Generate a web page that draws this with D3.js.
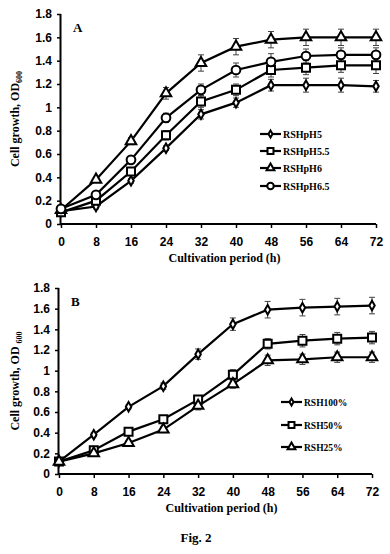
<!DOCTYPE html>
<html>
<head>
<meta charset="utf-8">
<script src="https://cdn.jsdelivr.net/npm/d3@7"></script>
<style>
body { margin: 0; background: #fff; }
svg { display: block; font-family: "Liberation Serif", "DejaVu Serif", serif; font-weight: bold; }
</style>
</head>
<body>
<script>
const hours = [0, 8, 16, 24, 32, 40, 48, 56, 64, 72];
const yTicks = [0, 0.2, 0.4, 0.6, 0.8, 1, 1.2, 1.4, 1.6, 1.8];

// panel A: pH series
const namesA = ["RSHpH5", "RSHpH5.5", "RSHpH6", "RSHpH6.5"];
const shapesA = ["diamond", "square", "triangle", "circle"];
const pH5 = [0.11, 0.15, 0.37, 0.65, 0.94, 1.04, 1.19, 1.19, 1.19, 1.18];
const pH55 = [0.10, 0.20, 0.45, 0.76, 1.05, 1.15, 1.32, 1.34, 1.36, 1.36];
const pH6 = [0.12, 0.38, 0.71, 1.12, 1.38, 1.52, 1.58, 1.60, 1.60, 1.60];
const pH65 = [0.13, 0.25, 0.55, 0.91, 1.15, 1.32, 1.39, 1.44, 1.45, 1.45];
const errA = [
  [0.02, 0.02, 0.02, 0.02, 0.04, 0.04, 0.05, 0.06, 0.06, 0.05],
  [0.02, 0.02, 0.03, 0.04, 0.05, 0.05, 0.06, 0.06, 0.06, 0.07],
  [0.02, 0.02, 0.03, 0.05, 0.07, 0.07, 0.07, 0.07, 0.07, 0.07],
  [0.02, 0.02, 0.03, 0.04, 0.05, 0.06, 0.07, 0.06, 0.06, 0.06]
];

// panel B: RSH concentration series
const namesB = ["RSH100%", "RSH50%", "RSH25%"];
const shapesB = ["diamond", "square", "triangle"];
const rsh100 = [0.12, 0.38, 0.65, 0.85, 1.16, 1.45, 1.59, 1.61, 1.62, 1.63];
const rsh50 = [0.12, 0.23, 0.41, 0.53, 0.72, 0.96, 1.26, 1.29, 1.31, 1.32];
const rsh25 = [0.12, 0.20, 0.30, 0.43, 0.66, 0.87, 1.10, 1.11, 1.13, 1.13];
const errB = [
  [0.02, 0.02, 0.02, 0.03, 0.05, 0.06, 0.08, 0.08, 0.08, 0.08],
  [0.02, 0.02, 0.03, 0.03, 0.04, 0.05, 0.05, 0.06, 0.06, 0.06],
  [0.02, 0.02, 0.02, 0.03, 0.04, 0.04, 0.05, 0.05, 0.05, 0.05]
];

const svg = d3.select("body").append("svg")
  .attr("width", 390)
  .attr("height", 554);

const symbolSize = { diamond: 26, square: 64, triangle: 48, circle: 60 };
const symbolType = {
  diamond: d3.symbolDiamond, square: d3.symbolSquare,
  triangle: d3.symbolTriangle, circle: d3.symbolCircle
};

function marker(g, shape, x, y, k = 1) {
  g.append("path")
    .attr("d", d3.symbol(symbolType[shape], symbolSize[shape] * k)())
    .attr("transform", `translate(${x},${y})`)
    .attr("fill", "#fff")
    .attr("stroke", "#000")
    .attr("stroke-width", 2);
}

function drawPanel(p) {
  const x = d3.scaleLinear().domain([0, 72]).range([p.left, p.right]);
  const y = d3.scaleLinear().domain([0, 1.8]).range([p.bottom, p.top]);
  const g = svg.append("g");

  g.append("g")
    .attr("transform", `translate(${p.left},0)`)
    .call(d3.axisLeft(y).tickValues(yTicks).tickSize(4).tickPadding(5)
      .tickFormat(d => d3.format("")(+d.toFixed(1))))
    .call(a => a.select(".domain").attr("stroke-width", 2).attr("d", `M-0.5,${p.top}V${p.bottom + 1}`))
    .call(a => a.selectAll(".tick line").attr("stroke-width", 1.5))
    .call(a => a.selectAll("text").attr("font-size", 12).attr("fill", "#000"));

  g.append("g")
    .attr("transform", `translate(0,${p.bottom})`)
    .call(d3.axisBottom(x).tickValues(hours).tickSize(4).tickPadding(9))
    .call(a => a.select(".domain").attr("stroke-width", 2).attr("d", `M${p.left},0H${p.right}`))
    .call(a => a.selectAll(".tick line").attr("stroke-width", 1.5))
    .call(a => a.selectAll("text").attr("font-size", 12).attr("fill", "#000"));

  g.append("text")
    .attr("x", (p.left + p.right) / 2 + 6)
    .attr("y", p.bottom + 38)
    .attr("text-anchor", "middle")
    .attr("font-size", 12)
    .text("Cultivation period (h)");

  const yl = g.append("text")
    .attr("transform", `translate(19,${(p.top + p.bottom) / 2}) rotate(-90)`)
    .attr("text-anchor", "middle")
    .attr("font-size", 12);
  yl.append("tspan").text(p.yTitle);
  yl.append("tspan").attr("font-size", 8).attr("dy", 3).text("600");

  g.append("text")
    .attr("x", p.left + 12)
    .attr("y", p.top + 18)
    .attr("font-size", 13)
    .text(p.tag);

  const line = d3.line().x((d, i) => x(hours[i])).y(d => y(d));

  p.series.forEach((vals, s) => {
    g.append("path")
      .attr("d", line(vals))
      .attr("fill", "none")
      .attr("stroke", "#000")
      .attr("stroke-width", 2.2);
    vals.forEach((v, i) => {
      const e = p.errs[s][i];
      const cx = x(hours[i]);
      g.append("path")
        .attr("d", `M${cx},${y(v - e)}V${y(v + e)}M${cx - 3},${y(v + e)}H${cx + 3}M${cx - 3},${y(v - e)}H${cx + 3}`)
        .attr("stroke", "#444")
        .attr("stroke-width", 1)
        .attr("fill", "none");
    });
  });
  p.series.forEach((vals, s) => {
    vals.forEach((v, i) => marker(g, p.shapes[s], x(hours[i]), y(v)));
  });

  p.names.forEach((name, i) => {
    const ly = p.legY[i];
    g.append("line")
      .attr("x1", p.legX).attr("x2", p.legX + 21)
      .attr("y1", ly).attr("y2", ly)
      .attr("stroke", "#000").attr("stroke-width", 2.2);
    marker(g, p.shapes[i], p.legX + 10.5, ly, 0.55);
    g.append("text")
      .attr("x", p.legX + 23)
      .attr("y", ly + 3.5)
      .attr("font-size", p.legFont)
      .text(name);
  });
}

drawPanel({
  left: 61, right: 376, top: 14, bottom: 224, tag: "A",
  yTitle: "Cell growth, OD",
  series: [pH5, pH55, pH6, pH65], errs: errA, names: namesA, shapes: shapesA,
  legX: 260, legY: [134, 151, 168, 186], legFont: 10
});

drawPanel({
  left: 59, right: 372, top: 288, bottom: 474, tag: "B",
  yTitle: "Cell growth, OD ",
  series: [rsh100, rsh50, rsh25], errs: errB, names: namesB, shapes: shapesB,
  legX: 281, legY: [402, 425, 447], legFont: 9.5
});

svg.append("text")
  .attr("x", 196)
  .attr("y", 542)
  .attr("text-anchor", "middle")
  .attr("font-size", 13)
  .text("Fig. 2");
</script>
</body>
</html>
